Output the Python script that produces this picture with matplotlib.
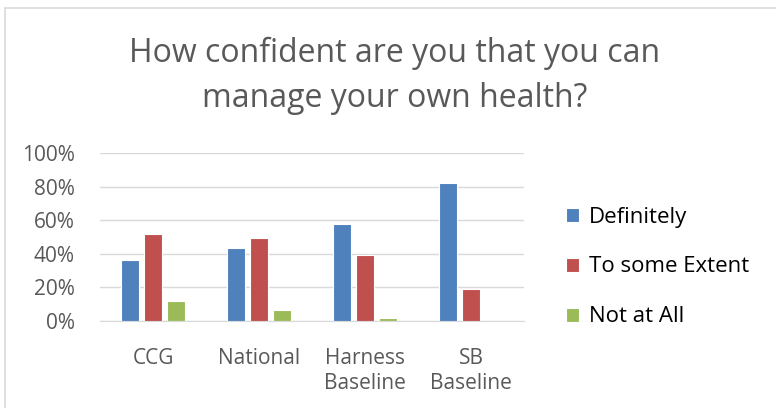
import matplotlib.pyplot as plt
import matplotlib.patches as mpatches
from matplotlib.ticker import PercentFormatter
import numpy as np

categories = ["CCG", "National", "Harness\nBaseline", "SB\nBaseline"]
series_names = ["Definitely", "To some Extent", "Not at All"]
definitely = [36.4, 43.4, 57.8, 82.0]
some_extent = [51.8, 49.4, 39.4, 18.8]
not_at_all = [11.8, 6.4, 1.6, 0.0]
colors = ["#4F81BD", "#C0504D", "#9BBB59"]

plt.rcParams['font.family'] = ['Open Sans', 'DejaVu Sans']

fig = plt.figure(figsize=(7.76, 4.08), dpi=100)
ax = fig.add_axes([100 / 776, 1 - 320.7 / 408, 424 / 776, 167.4 / 408])

# outer chart border
fig.patches.append(mpatches.Rectangle((5 / 776, -0.01), 1.0, 1 - 8 / 408 + 0.01,
                                      transform=fig.transFigure, fill=False,
                                      edgecolor="#D9D9D9", linewidth=1.2))

x = np.arange(len(categories))
width = 0.17
step = 0.217
for i, (vals, name) in enumerate(zip([definitely, some_extent, not_at_all], series_names)):
    ax.bar(x + (i - 1) * step, vals, width, color=colors[i], edgecolor="white",
           linewidth=0.8, label=name, zorder=3)

ax.set_xlim(-0.5, len(categories) - 0.5)
ax.set_ylim(0, 100)
ax.set_yticks(range(0, 101, 20))
ax.yaxis.set_major_formatter(PercentFormatter(decimals=0))
ax.set_xticks(x)
ax.set_xticklabels(categories, linespacing=1.25)
ax.grid(axis="y", color="#D9D9D9", linewidth=1, zorder=0)
for s in ["top", "right", "left"]:
    ax.spines[s].set_visible(False)
ax.spines["bottom"].set_color("#D9D9D9")
ax.tick_params(axis="both", length=0, labelsize=15, colors="#595959")
ax.tick_params(axis="y", pad=18)
ax.tick_params(axis="x", pad=20)

fig.text(395 / 776, 1 - 76 / 408, "How confident are you that you can\nmanage your own health?",
         ha="center", va="center", fontsize=23, color="#595959", linespacing=1.5)

ax.legend(loc="center left", bbox_to_anchor=(546 / 776, 1 - 267 / 408),
          bbox_transform=fig.transFigure, frameon=False, fontsize=16,
          labelspacing=1.3, handlelength=0.6, handleheight=0.6, handletextpad=0.45,
          labelcolor="#000000")

fig.savefig("out.png", dpi=100)
